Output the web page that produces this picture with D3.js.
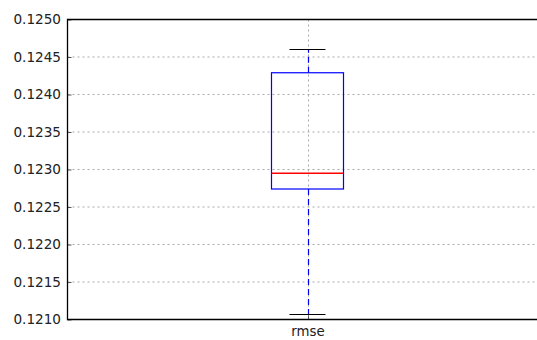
<!DOCTYPE html>
<html><head><meta charset="utf-8">
<script src="https://cdn.jsdelivr.net/npm/d3@7"></script>
<style>body{margin:0;background:#fff}svg{display:block}text{font-family:"DejaVu Sans",sans-serif;}</style>
</head><body>
<script>
const categories = ["rmse"];
const whiskerLow = [0.12107];
const q1 = [0.12274];
const median = [0.12295];
const q3 = [0.12429];
const whiskerHigh = [0.12460];
const yTicks = [0.1210, 0.1215, 0.1220, 0.1225, 0.1230, 0.1235, 0.1240, 0.1245, 0.1250];

(function () {
const W = 537, H = 340;
const svg = d3.select("body").append("svg").attr("width", W).attr("height", H);
const mL = 67.5, mR = 547.5, mT = 19.5, mB = 319.5;
const x = d3.scaleLinear().domain([0.5, categories.length + 0.5]).range([mL, mR]);
const y = d3.scaleLinear().domain([0.1210, 0.1250]).range([mB, mT]);

// grid
const g = svg.append("g");
g.selectAll("line.hg").data(yTicks.slice(1, -1)).join("line")
  .attr("x1", mL).attr("x2", mR).attr("y1", d => y(d)).attr("y2", d => y(d))
  .attr("stroke", "#aaa").attr("stroke-width", 1).attr("stroke-dasharray", "2,3");
g.selectAll("line.vg").data(categories).join("line")
  .attr("x1", (d, i) => Math.round(x(i + 1)) + 0.5).attr("x2", (d, i) => Math.round(x(i + 1)) + 0.5)
  .attr("y1", mT).attr("y2", mB)
  .attr("stroke", "#aaa").attr("stroke-width", 1).attr("stroke-dasharray", "2,3");

// boxes
const bw = 0.15, cw = 0.075;
categories.forEach((c, i) => {
  const cx = Math.round(x(i + 1)) + 0.5;
  svg.append("line").attr("x1", cx).attr("x2", cx).attr("y1", y(q3[i])).attr("y2", y(whiskerHigh[i]))
    .attr("stroke", "#0000ff").attr("stroke-width", 1.2).attr("stroke-dasharray", "6,4");
  svg.append("line").attr("x1", cx).attr("x2", cx).attr("y1", y(q1[i])).attr("y2", y(whiskerLow[i]))
    .attr("stroke", "#0000ff").attr("stroke-width", 1.2).attr("stroke-dasharray", "6,4");
  [whiskerHigh[i], whiskerLow[i]].forEach(v => {
    svg.append("line").attr("x1", x(i + 1 - cw / 2)).attr("x2", x(i + 1 + cw / 2))
      .attr("y1", Math.round(y(v)) + 0.5).attr("y2", Math.round(y(v)) + 0.5)
      .attr("stroke", "#000").attr("stroke-width", 1.2);
  });
  svg.append("rect").attr("x", x(i + 1 - bw / 2)).attr("width", x(i + 1 + bw / 2) - x(i + 1 - bw / 2))
    .attr("y", y(q3[i])).attr("height", y(q1[i]) - y(q3[i]))
    .attr("fill", "none").attr("stroke", "#0000ff").attr("stroke-width", 1.2);
  svg.append("line").attr("x1", x(i + 1 - bw / 2)).attr("x2", x(i + 1 + bw / 2))
    .attr("y1", y(median[i])).attr("y2", y(median[i]))
    .attr("stroke", "#ff0000").attr("stroke-width", 1.5);
});

// axes
const yAxis = d3.axisLeft(y).tickValues(yTicks).tickFormat(d3.format(".4f")).tickSizeInner(-4).tickSizeOuter(0).tickPadding(6.5);
const ya = svg.append("g").attr("transform", `translate(${mL},0)`).call(yAxis);
ya.select(".domain").remove();
ya.selectAll(".tick line").attr("stroke", "#555");
ya.selectAll("text").attr("font-size", "13.6px").attr("fill", "#222");

const xAxis = d3.axisBottom(x).tickValues(categories.map((c, i) => i + 1)).tickFormat((d) => categories[d - 1]).tickSizeInner(-4).tickSizeOuter(0).tickPadding(7);
const xa = svg.append("g").attr("transform", `translate(0,${mB})`).call(xAxis);
xa.select(".domain").remove();
xa.selectAll(".tick line").attr("stroke", "#555").attr("transform", "translate(0.5,0)");
xa.selectAll("text").attr("font-size", "13.3px").attr("fill", "#222");

// spines
svg.append("path").attr("d", `M${mR},${mT}H${mL}V${mB}H${mR}`)
  .attr("fill", "none").attr("stroke", "#000").attr("stroke-width", 1.3);
})();
</script>
</body></html>
